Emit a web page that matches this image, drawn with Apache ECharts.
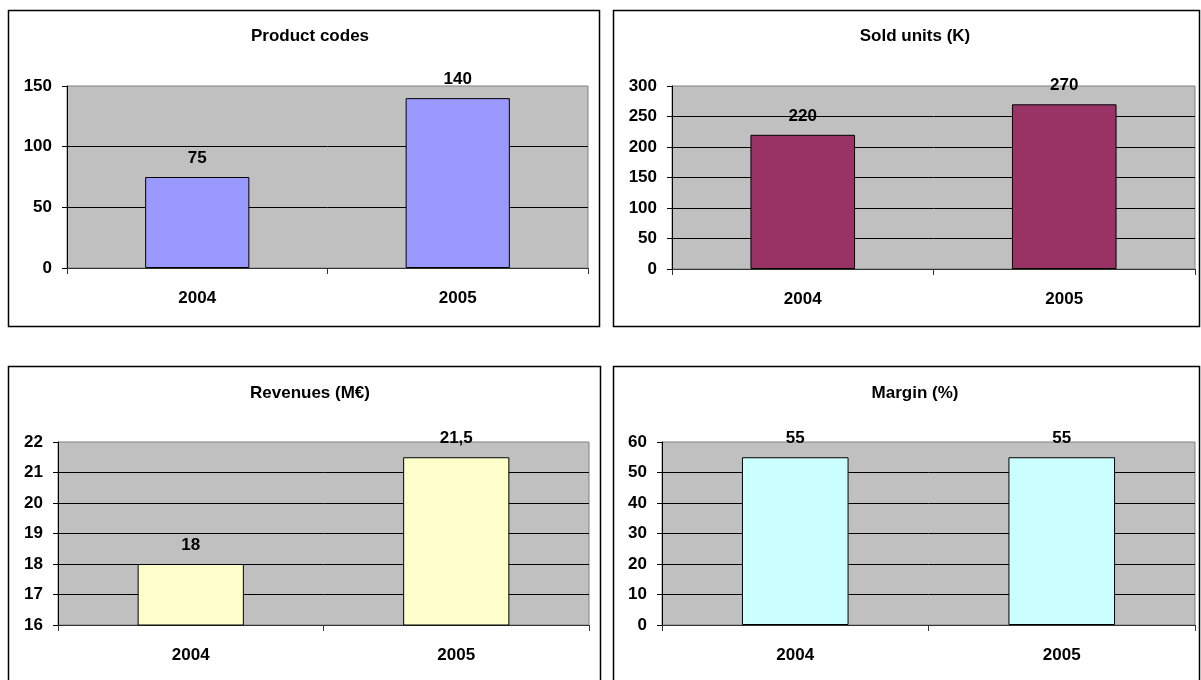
<!DOCTYPE html>
<html>
<head>
<meta charset="utf-8">
<script src="https://cdn.jsdelivr.net/npm/echarts@6/dist/echarts.min.js"></script>
<style>
html,body{margin:0;padding:0;background:#fff;}
#chart{width:1201px;height:680px;}
</style>
</head>
<body>
<div id="chart"></div>
<script>
const categories = ['2004', '2005'];
const titles = ['Product codes', 'Sold units (K)', 'Revenues (M€)', 'Margin (%)'];
const productCodes = [75, 140];
const soldUnits = [220, 270];
const revenues = [18, 21.5];
const marginPct = [55, 55];
const yRanges = [[0, 150, 50], [0, 300, 50], [16, 22, 1], [0, 60, 10]];
const seriesData = [productCodes, soldUnits, revenues, marginPct];
const colors = ['#9999FF', '#993366', '#FFFFCC', '#CCFFFF'];

const FONT = '"Liberation Sans", Arial, sans-serif';
const FS = 17;
const grids = [
  { left: 67, top: 86, width: 521, height: 182 },
  { left: 672, top: 86, width: 523, height: 183 },
  { left: 58, top: 442, width: 531, height: 183 },
  { left: 662, top: 442, width: 533, height: 183 }
];
const boxes = [
  { x: 8.5, y: 10.5, w: 591, h: 316 },
  { x: 613.5, y: 10.5, w: 586, h: 316 },
  { x: 8.5, y: 366.5, w: 592, h: 330 },
  { x: 613.5, y: 366.5, w: 586, h: 330 }
];
const titlePos = [[305, 23], [910, 23], [305, 380], [910, 380]];

const fmt = v => String(v).replace('.', ',');

const option = {
  animation: false,
  backgroundColor: '#fff',
  title: titles.map((t, i) => ({
    text: t,
    left: titlePos[i][0],
    top: titlePos[i][1],
    textAlign: 'center',
    textStyle: { fontFamily: FONT, fontWeight: 'bold', fontSize: FS, color: '#000' }
  })),
  graphic: boxes.map(b => ({
    type: 'rect',
    shape: { x: b.x, y: b.y, width: b.w, height: b.h },
    style: { fill: 'none', stroke: '#000', lineWidth: 1.5 },
    silent: true
  })),
  grid: grids.map(g => Object.assign({
    show: true,
    backgroundColor: '#C0C0C0',
    borderColor: '#808080',
    borderWidth: 1
  }, g)),
  xAxis: grids.map((g, i) => ({
    type: 'category',
    gridIndex: i,
    data: categories,
    boundaryGap: true,
    axisLine: { show: true, lineStyle: { color: '#333', width: 1 } },
    axisTick: { show: true, length: 6, lineStyle: { color: '#333' } },
    axisLabel: { margin: 22, fontFamily: FONT, fontWeight: 'bold', fontSize: FS, color: '#000' },
    splitLine: { show: false }
  })),
  yAxis: grids.map((g, i) => ({
    type: 'value',
    gridIndex: i,
    min: yRanges[i][0],
    max: yRanges[i][1],
    interval: yRanges[i][2],
    axisLine: { show: true, lineStyle: { color: '#000', width: 1 } },
    axisTick: { show: true, length: 5, lineStyle: { color: '#000' } },
    axisLabel: { margin: 15, fontFamily: FONT, fontWeight: 'bold', fontSize: FS, color: '#000' },
    splitLine: { show: true, showMinLine: false, showMaxLine: false, lineStyle: { color: '#000', width: 1 } }
  })),
  series: seriesData.map((d, i) => ({
    type: 'bar',
    xAxisIndex: i,
    yAxisIndex: i,
    data: d,
    barWidth: '40%',
    itemStyle: { color: colors[i], borderColor: '#000', borderWidth: 1 },
    label: {
      show: true,
      position: 'top',
      distance: 10,
      formatter: p => fmt(p.value),
      fontFamily: FONT, fontWeight: 'bold', fontSize: FS, color: '#000'
    }
  }))
};

const chart = echarts.init(document.getElementById('chart'), null, { renderer: 'canvas' });
chart.setOption(option);
</script>
</body>
</html>
